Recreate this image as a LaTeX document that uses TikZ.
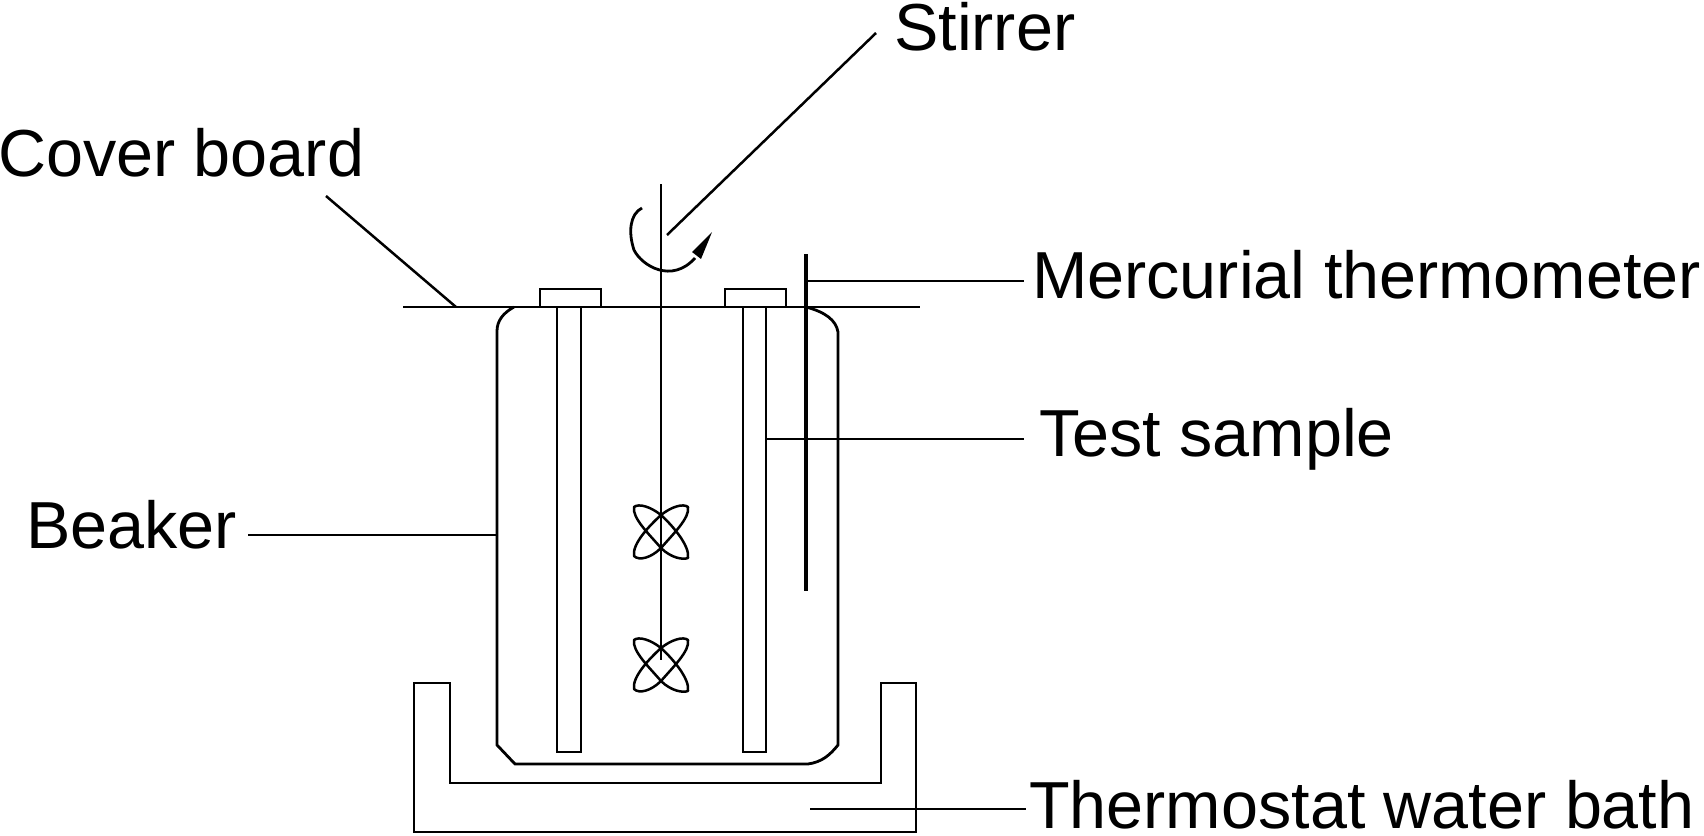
\documentclass[tikz,border=0pt]{standalone}
\usepackage{fontspec}
\setmainfont{Liberation Sans}
\tikzset{
  lbl/.style={anchor=base west,inner sep=0pt,font=\fontsize{66.5}{70}\selectfont,text=black},
  thin line/.style={draw=black,line width=2.8pt,line join=miter},
  leader/.style={draw=black,line width=2.5pt},
  thick line/.style={draw=black,line width=4.2pt},
  blade/.style={draw=black,line width=2.5pt,line join=round}
}
\newcommand{\stirblades}[2]{%
  \draw[blade] (#1,#2+16) .. controls (#1-12,#2+2) and (#1-29,#2-14) .. (#1-27,#2-25)
     .. controls (#1-22,#2-29) and (#1-10,#2-25) .. (#1,#2-17)
     .. controls (#1+10,#2-25) and (#1+22,#2-29) .. (#1+27,#2-25)
     .. controls (#1+29,#2-14) and (#1+12,#2+2) .. (#1,#2+16)
     .. controls (#1+10,#2+26) and (#1+22,#2+28) .. (#1+27,#2+26)
     .. controls (#1+29,#2+14) and (#1+12,#2-6) .. (#1,#2-17)
     .. controls (#1-12,#2-6) and (#1-29,#2+12) .. (#1-27,#2+24)
     .. controls (#1-22,#2+29) and (#1-10,#2+26) .. (#1,#2+16) -- cycle;}
\begin{document}
\begin{tikzpicture}[x=1pt,y=-1pt]
\useasboundingbox (0,0) rectangle (1704,835);
% labels
\node[lbl] (stirrer) at (894,50) {Stirrer};
\node[lbl] (cover) at (-2,176) {Cover board};
\node[lbl] (merc) at (1032,298) {Mercurial thermometer};
\node[lbl] (test) at (1039,456) {Test sample};
\node[lbl] (beakerlbl) at (26,548) {Beaker};
\node[lbl] (bathlbl) at (1029,828) {Thermostat water bath};
% coordinates
\coordinate (stirA) at (876,33);
\coordinate (stirB) at (667,235);
\coordinate (covA) at (326,196);
\coordinate (covB) at (456,307);
\coordinate (thermTop) at (806,254);
\coordinate (thermBot) at (806,591);
\coordinate (mercA) at (806,281);
\coordinate (mercB) at (1024,281);
\coordinate (testA) at (766,439);
\coordinate (testB) at (1024,439);
\coordinate (beaA) at (248,535);
\coordinate (beaB) at (497,535);
\coordinate (bathA) at (810,809);
\coordinate (bathB) at (1026,809);
% beaker
\draw[thin line] (514,307) .. controls (503,313) and (497,321) .. (497,331)
  -- (497,745) -- (515,764) -- (808,764) .. controls (822,762) and (830,755) .. (838,745)
  -- (838,332) .. controls (836,320) and (825,312) .. (806,307);
% bath
\draw[thin line] (414,683) -- (450,683) -- (450,783) -- (881,783) -- (881,683) -- (916,683) -- (916,832) -- (414,832) -- cycle;
% cover board
\draw[thin line] (403,307) -- (920,307);
% caps
\draw[thin line] (540,307) -- (540,289) -- (601,289) -- (601,307);
\draw[thin line] (725,307) -- (725,289) -- (786,289) -- (786,307);
% tubes
\draw[thin line] (557,307) -- (557,752) -- (581,752) -- (581,307);
\draw[thin line] (743,307) -- (743,752) -- (766,752) -- (766,307);
% stirrer shaft
\draw[thin line] (661,184) -- (661,660);
\stirblades{661}{532}
\stirblades{661}{665}
% thermometer
\draw[thick line] (thermTop) -- (thermBot);
% rotation arrow
\draw[thin line] (642,208) .. controls (630,214) and (628,232) .. (634,250)
  .. controls (642,266) and (672,284) .. (695,258);
\fill[black] (712,232) -- (708,242) -- (701,259) -- (692,252) -- cycle;
% leaders
\draw[leader] (stirA) -- (stirB);
\draw[leader] (covA) -- (covB);
\draw[leader] (mercA) -- (mercB);
\draw[leader] (testA) -- (testB);
\draw[leader] (beaA) -- (beaB);
\draw[leader] (bathA) -- (bathB);
\end{tikzpicture}
\end{document}
